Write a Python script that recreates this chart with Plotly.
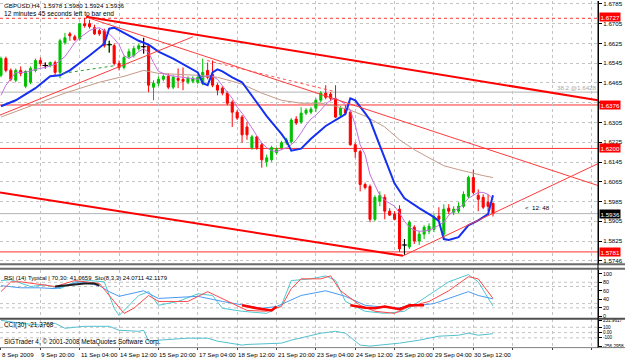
import plotly.graph_objects as go

# ---------------- data ----------------
bar_idx = list(range(101))
date_ticks = [0, 8, 16, 24, 32, 40, 48, 56, 64, 72, 80, 88, 96]
date_labels = ["8 Sep 2009", "9 Sep 20:00", "11 Sep 04:00", "14 Sep 12:00", "15 Sep 20:00",
               "17 Sep 04:00", "18 Sep 12:00", "21 Sep 20:00", "23 Sep 04:00", "24 Sep 12:00",
               "25 Sep 20:00", "29 Sep 04:00", "30 Sep 12:00"]

opens = [1.6496, 1.6564, 1.6516, 1.6476, 1.6516, 1.6452, 1.6468, 1.6516, 1.6556, 1.6536,
         1.6536, 1.6548, 1.6508, 1.6628, 1.6664, 1.6652, 1.6644, 1.6705, 1.6705, 1.6689,
         1.6677, 1.6677, 1.6620, 1.6616, 1.6544, 1.6528, 1.6572, 1.6576, 1.6604, 1.6612,
         1.6616, 1.6448, 1.6464, 1.6480, 1.6492, 1.6448, 1.6484, 1.6480, 1.6468, 1.6472,
         1.6468, 1.6464, 1.6516, 1.6500, 1.6456, 1.6444, 1.6424, 1.6387, 1.6347, 1.6327,
         1.6287, 1.6203, 1.6247, 1.6215, 1.6146, 1.6154, 1.6183, 1.6203, 1.6223, 1.6227,
         1.6319, 1.6307, 1.6343, 1.6347, 1.6363, 1.6395, 1.6424, 1.6420, 1.6403, 1.6335,
         1.6359, 1.6347, 1.6215, 1.6187, 1.6054, 1.6046, 1.5913, 1.5986, 1.6002, 1.5946,
         1.5934, 1.5954, 1.5809, 1.5801, 1.5881, 1.5825, 1.5853, 1.5865, 1.5873, 1.5926,
         1.5853, 1.5958, 1.5942, 1.5946, 1.5966, 1.6006, 1.6082, 1.6010, 1.6002, 1.5982,
         1.5978]
highs = [1.6572, 1.6572, 1.6524, 1.6524, 1.6532, 1.6516, 1.6532, 1.6564, 1.6568, 1.6548,
         1.6552, 1.6556, 1.6644, 1.6668, 1.6672, 1.6660, 1.6709, 1.6729, 1.6721, 1.6701,
         1.6685, 1.6685, 1.6636, 1.6624, 1.6556, 1.6576, 1.6604, 1.6616, 1.6624, 1.6648,
         1.6624, 1.6476, 1.6492, 1.6500, 1.6504, 1.6496, 1.6524, 1.6528, 1.6492, 1.6492,
         1.6496, 1.6564, 1.6548, 1.6556, 1.6464, 1.6452, 1.6432, 1.6395, 1.6355, 1.6335,
         1.6307, 1.6255, 1.6251, 1.6223, 1.6175, 1.6211, 1.6203, 1.6231, 1.6243, 1.6323,
         1.6331, 1.6367, 1.6363, 1.6367, 1.6403, 1.6432, 1.6456, 1.6428, 1.6456, 1.6371,
         1.6375, 1.6355, 1.6223, 1.6195, 1.6062, 1.6054, 1.6010, 1.6026, 1.6014, 1.5958,
         1.5946, 1.5970, 1.5833, 1.5909, 1.5889, 1.5865, 1.5889, 1.5897, 1.5934, 1.5962,
         1.5974, 1.5974, 1.5966, 1.5982, 1.6026, 1.6090, 1.6114, 1.6034, 1.6014, 1.6014,
         1.5980]
lows = [1.6488, 1.6508, 1.6472, 1.6468, 1.6492, 1.6444, 1.6460, 1.6508, 1.6532, 1.6524,
        1.6528, 1.6496, 1.6484, 1.6620, 1.6636, 1.6636, 1.6636, 1.6689, 1.6685, 1.6660,
        1.6656, 1.6608, 1.6588, 1.6536, 1.6516, 1.6520, 1.6564, 1.6568, 1.6596, 1.6584,
        1.6428, 1.6395, 1.6452, 1.6472, 1.6440, 1.6440, 1.6444, 1.6436, 1.6460, 1.6464,
        1.6460, 1.6456, 1.6480, 1.6448, 1.6415, 1.6415, 1.6375, 1.6287, 1.6315, 1.6223,
        1.6235, 1.6195, 1.6195, 1.6122, 1.6126, 1.6146, 1.6175, 1.6195, 1.6215, 1.6219,
        1.6295, 1.6299, 1.6335, 1.6339, 1.6347, 1.6387, 1.6399, 1.6391, 1.6323, 1.6327,
        1.6335, 1.6211, 1.6162, 1.6026, 1.6034, 1.5901, 1.5905, 1.5966, 1.5913, 1.5926,
        1.5909, 1.5781, 1.5769, 1.5793, 1.5813, 1.5809, 1.5833, 1.5853, 1.5861, 1.5905,
        1.5833, 1.5934, 1.5930, 1.5938, 1.5958, 1.5998, 1.6014, 1.5946, 1.5954, 1.5946,
        1.5924]
closes = [1.6564, 1.6516, 1.6480, 1.6516, 1.6504, 1.6512, 1.6524, 1.6556, 1.6544, 1.6536,
          1.6548, 1.6508, 1.6636, 1.6648, 1.6656, 1.6640, 1.6705, 1.6697, 1.6693, 1.6664,
          1.6664, 1.6616, 1.6620, 1.6544, 1.6528, 1.6568, 1.6592, 1.6604, 1.6616, 1.6612,
          1.6456, 1.6464, 1.6480, 1.6492, 1.6448, 1.6488, 1.6476, 1.6472, 1.6484, 1.6484,
          1.6488, 1.6508, 1.6488, 1.6456, 1.6436, 1.6424, 1.6383, 1.6347, 1.6323, 1.6255,
          1.6255, 1.6247, 1.6203, 1.6154, 1.6162, 1.6203, 1.6195, 1.6223, 1.6235, 1.6315,
          1.6303, 1.6343, 1.6355, 1.6359, 1.6395, 1.6424, 1.6407, 1.6403, 1.6327, 1.6363,
          1.6343, 1.6215, 1.6187, 1.6054, 1.6042, 1.5913, 1.6002, 1.6010, 1.5946, 1.5930,
          1.5913, 1.5793, 1.5809, 1.5901, 1.5825, 1.5853, 1.5881, 1.5885, 1.5922, 1.5913,
          1.5954, 1.5946, 1.5954, 1.5966, 1.6014, 1.6082, 1.6022, 1.5994, 1.5962, 1.5966,
          1.5936]

# moving averages (read at selected bars)
blue_k = [0, 3, 7, 10, 12, 14, 18, 20, 21, 22, 23, 25, 28, 30, 32, 35, 38, 40, 41, 42,
          43, 44, 45, 47, 49, 51, 54, 57, 58, 59, 61, 63, 66, 69, 70, 71, 72, 74, 75, 77,
          80, 82, 85, 88, 89, 90, 91, 93, 95, 97, 99, 100]
blue_v = [1.6371, 1.6395, 1.6444, 1.6492, 1.6496, 1.6516, 1.6576, 1.6608, 1.6624, 1.6685,
          1.6689, 1.6668, 1.6636, 1.6620, 1.6592, 1.6564, 1.6532, 1.6508, 1.6464, 1.6456,
          1.6508, 1.6520, 1.6512, 1.6488, 1.6468, 1.6415, 1.6331, 1.6259, 1.6231, 1.6191,
          1.6199, 1.6239, 1.6291, 1.6327, 1.6339, 1.6403, 1.6395, 1.6343, 1.6315, 1.6211,
          1.6058, 1.5998, 1.5958, 1.5922, 1.5905, 1.5833, 1.5829, 1.5841, 1.5889, 1.5909,
          1.5934, 1.6010]
violet_k = [0, 1, 3, 5, 7, 9, 11, 13, 14, 15, 16, 17, 18, 19, 20, 21, 22, 23, 24, 25,
            26, 27, 28, 29, 30, 31, 32, 34, 37, 40, 42, 43, 44, 45, 46, 47, 48, 49, 50, 51,
            52, 53, 54, 55, 56, 57, 58, 59, 60, 61, 62, 63, 64, 65, 66, 67, 68, 69, 70, 71,
            72, 73, 74, 75, 76, 77, 78, 79, 80, 81, 82, 83, 84, 85, 86, 87, 88, 89, 90, 91,
            92, 93, 94, 95, 96, 97, 98, 99, 100]
violet_v = [1.6415, 1.6456, 1.6508, 1.6508, 1.6520, 1.6528, 1.6540, 1.6572, 1.6600, 1.6628,
            1.6648, 1.6664, 1.6677, 1.6685, 1.6689, 1.6677, 1.6664, 1.6644, 1.6620, 1.6576,
            1.6564, 1.6576, 1.6592, 1.6604, 1.6588, 1.6548, 1.6512, 1.6496, 1.6488, 1.6480,
            1.6496, 1.6492, 1.6480, 1.6456, 1.6428, 1.6403, 1.6367, 1.6343, 1.6315, 1.6283,
            1.6251, 1.6223, 1.6203, 1.6191, 1.6187, 1.6195, 1.6203, 1.6215, 1.6235, 1.6263,
            1.6295, 1.6319, 1.6335, 1.6355, 1.6379, 1.6395, 1.6403, 1.6391, 1.6379, 1.6355,
            1.6295, 1.6215, 1.6175, 1.6094, 1.6050, 1.6010, 1.5990, 1.5978, 1.5966, 1.5938,
            1.5905, 1.5881, 1.5869, 1.5865, 1.5865, 1.5869, 1.5877, 1.5889, 1.5901, 1.5930,
            1.5946, 1.5958, 1.5974, 1.5998, 1.6010, 1.6022, 1.6022, 1.6014, 1.5994]
brown_k = [0, 6, 13, 20, 25, 29, 32, 40, 44, 47, 49, 53, 57, 61, 65, 68, 71, 74, 78, 81,
           84, 87, 90, 93, 96, 98, 100]
brown_v = [1.6327, 1.6371, 1.6424, 1.6468, 1.6492, 1.6516, 1.6504, 1.6496, 1.6488, 1.6472,
           1.6460, 1.6424, 1.6395, 1.6383, 1.6383, 1.6371, 1.6355, 1.6331, 1.6287, 1.6235,
           1.6195, 1.6162, 1.6130, 1.6114, 1.6098, 1.6090, 1.6082]

# drawn objects (bar index, price)
thick_top = ([17.3, 121.3], [1.6733, 1.6395])
thin_down = ([17.7, 121.3], [1.6729, 1.6050])
dash_down = ([41.9, 67.5], [1.6556, 1.6432])
thin_up_left = ([-0.2, 39.0], [1.6335, 1.6652])
thick_bottom = ([-0.2, 81.7], [1.6022, 1.5765])
thin_up_right = ([81.7, 121.3], [1.5765, 1.6138])
green_dot = ([12.6, 23.4], [1.6504, 1.6536])
red_levels = [1.6727, 1.6376, 1.6200, 1.5781]
red_level_text = ["1.6727", "1.6376", "1.6200", "1.5781"]
fib_level = 1.6428
bid = 1.5936

price_ticks = [1.6785, 1.6705, 1.6625, 1.6545, 1.6465, 1.6385, 1.6305, 1.6225, 1.6145,
               1.6065, 1.5985, 1.5905, 1.5825, 1.5745]
# the 1.6385 label sits under the red 1.6376 tag in the picture
price_labels = ["1.6785", "1.6705", "1.6625", "1.6545", "1.6465", "", "1.6305",
                "1.6225", "1.6145", "1.6065", "1.5985", "1.5905", "1.5825", "1.5746"]

# RSI / Stochastic panel
rsi_k = [0, 4, 8, 11, 16, 20, 22, 24, 29, 32, 40, 45, 53, 56, 61, 65, 66, 70, 74, 80,
         88, 91, 95, 97, 100]
rsi_v = [72, 67, 67, 65, 81, 72, 58, 47, 60, 42, 47, 35, 19, 23, 49, 58, 60, 47, 26, 19,
         30, 42, 58, 49, 41.0659]
sto_k = [0, 2, 6, 9, 12, 15, 18, 21, 23, 24, 28, 30, 32, 36, 40, 43, 45, 49, 54, 57,
         59, 63, 66, 68, 70, 74, 78, 82, 85, 88, 91, 95, 97, 100]
sto_v = [84, 86, 70, 74, 65, 81, 84, 81, 19, 2, 49, 58, 26, 35, 53, 49, 19, 12, 7, 26,
         84, 88, 95, 84, 35, 12, 7, 12, 35, 58, 81, 98, 81, 24.0711]
sig_k = [0, 2, 4, 11, 15, 20, 22, 25, 27, 30, 32, 38, 42, 45, 50, 54, 57, 59, 61, 65,
         67, 69, 73, 76, 80, 83, 87, 91, 95, 97, 100]
sig_v = [58, 81, 81, 70, 84, 77, 49, 7, 19, 49, 35, 35, 58, 42, 14, 12, 23, 65, 88, 88,
         95, 60, 26, 12, 7, 23, 35, 60, 93, 88, 42.1179]
hi_k = [11, 17, 19, 20]
hi_v = [70, 77, 77, 72]
lo1_k = [49, 52, 55, 56]
lo1_v = [26, 19, 14, 23]
lo2_k = [71, 74, 76, 78, 81, 83, 86]
lo2_v = [26, 20, 19, 23, 17, 26, 26]
osc_ticks = [100, 80, 60, 40, 20, 0]

# CCI panel
cci_k = [0, 4, 8, 11, 13, 17, 22, 24, 28, 29, 30, 32, 38, 42, 44, 49, 50, 54, 57, 59,
         63, 65, 68, 70, 73, 75, 77, 81, 85, 89, 93, 95, 97, 100]
cci_v = [231.9617, 176, 144, 176, 82, 119, 119, 44, 25, 44, -162, -144, -106, -106, -162,
         -237, -225, -215, -200, -144, -50, -12, 25, -12, -237, -256.2958, -237, -200, -144,
         -68, -50, -12, -50, -21.3768]
cci_ticks = [231.9617, 100, 0, -100, -256.2958]
cci_labels = ["231.9617", "100", "0.00", "-100", "-256.2958"]

# ---------------- layout helpers ----------------
W, H = 625, 363
RIGHT = 598.0
FONT = "Liberation Sans, Arial, sans-serif"
GRID = "#c4c4c4"
RED = "#ff0000"
GREEN = "#00c000"
FS = 6.2


def yp(py):
    return 1 - py / H


XD = [0, RIGHT / W]
XR = [-0.2, 121.34]

fig = go.Figure()

# candles
fig.add_trace(go.Candlestick(
    x=bar_idx, open=opens, high=highs, low=lows, close=closes,
    increasing=dict(line=dict(color=GREEN, width=1), fillcolor=GREEN),
    decreasing=dict(line=dict(color=RED, width=1), fillcolor=RED),
    whiskerwidth=0, xaxis="x", yaxis="y", hoverinfo="skip", showlegend=False))

# doji crosses in black
dj = [i for i in bar_idx if opens[i] == closes[i]]
wx, wy = [], []
for i in dj:
    wx += [bar_idx[i], bar_idx[i], None]
    wy += [highs[i], lows[i], None]
fig.add_trace(go.Scatter(x=wx, y=wy, mode="lines", line=dict(color="black", width=1),
                         xaxis="x", yaxis="y", hoverinfo="skip"))
fig.add_trace(go.Scatter(x=[bar_idx[i] for i in dj], y=[opens[i] for i in dj], mode="markers",
                         marker=dict(symbol="line-ew", size=4, line=dict(color="black", width=1)),
                         xaxis="x", yaxis="y", hoverinfo="skip"))


def line(xs, ys, color, width, dash="solid", ax=("x", "y")):
    fig.add_trace(go.Scatter(x=xs, y=ys, mode="lines", line=dict(color=color, width=width, dash=dash),
                             xaxis=ax[0], yaxis=ax[1], hoverinfo="skip", cliponaxis=True))


# moving averages
line(brown_k, brown_v, "#c49a88", 1)
line(violet_k, violet_v, "#c46ee0", 1)
line(blue_k, blue_v, "#1530f0", 2)

# trend lines
line(*thick_top, RED, 2)
line(*thin_down, "#ff3a3a", 1)
line(*dash_down, "#ff5050", 1, "dot")
line(*thin_up_left, "#ff3a3a", 1)
line(*thick_bottom, RED, 2)
line(*thin_up_right, "#ff3a3a", 1)
line(*green_dot, "#30a030", 1, "dot")

# oscillators
line(sto_k, sto_v, "#4ec8d2", 1, ax=("x2", "y2"))
line(rsi_k, rsi_v, "#4a9af0", 1, ax=("x2", "y2"))
line(sig_k, sig_v, "#ff4848", 1, ax=("x2", "y2"))
line(hi_k, hi_v, "#202020", 2, ax=("x2", "y2"))
line(lo1_k, lo1_v, "#ff0000", 2.5, ax=("x2", "y2"))
line(lo2_k, lo2_v, "#ff0000", 2.5, ax=("x2", "y2"))
line(cci_k, cci_v, "#52c0d0", 1, ax=("x3", "y3"))

shapes = []
# horizontal price levels
for i, lv in enumerate(red_levels):
    shapes.append(dict(type="line", xref="x domain", yref="y", x0=0, x1=1, y0=lv, y1=lv,
                       line=dict(color="#ff3030", width=1, dash="dot" if i == 0 else "solid"),
                       layer="below"))
for lv in (fib_level, bid):
    shapes.append(dict(type="line", xref="x domain", yref="y", x0=0, x1=1, y0=lv, y1=lv,
                       line=dict(color="#b4b4b4", width=1), layer="below"))
# oscillator levels
for lv in (20, 30, 70, 80):
    shapes.append(dict(type="line", xref="x2 domain", yref="y2", x0=0, x1=1, y0=lv, y1=lv,
                       line=dict(color=GRID, width=1, dash="dot"), layer="below"))
for lv in (100, 0, -100):
    shapes.append(dict(type="line", xref="x3 domain", yref="y3", x0=0, x1=1, y0=lv, y1=lv,
                       line=dict(color=GRID, width=1, dash="dot"), layer="below"))
# panel separators and frame
for py, w, c in ((265.5, 2, "#6a6a6a"), (270.0, 2, "#6a6a6a"), (320.5, 2, "#505050"),
                 (349.5, 1, "#808080")):
    shapes.append(dict(type="line", xref="paper", yref="paper", x0=0, x1=1, y0=yp(py), y1=yp(py),
                       line=dict(color=c, width=w)))
shapes.append(dict(type="line", xref="paper", yref="paper", x0=RIGHT / W, x1=RIGHT / W,
                   y0=yp(349.5), y1=1, line=dict(color="black", width=1)))

ann = []


def text(x, y, s, xref="paper", yref="paper", xanchor="left", yanchor="middle", color="black",
         bg=None, size=FS, **kw):
    d = dict(x=x, y=y, xref=xref, yref=yref, text=s, showarrow=False, xanchor=xanchor,
             yanchor=yanchor, font=dict(family=FONT, size=size, color=color), borderpad=0)
    if bg:
        d.update(bgcolor=bg, borderpad=0.5)
    d.update(kw)
    ann.append(d)


text(3 / W, yp(5), "GBPUSD,H4  1.5978 1.5980 1.5924 1.5936", size=6.2)
text(3 / W, yp(13), "12 minutes 45 seconds left to bar end", size=6.6)
text(3 / W, yp(279), "RSI (14) Typical | 70,30: 41.0659  Sto(8,3,3) 24.0711 42.1179", size=6.0)
text(3 / W, yp(327), "CCI(30) -21.3768", size=6.4)
text(3 / W, yp(344), "SIGTrader 4, © 2001-2008 MetaQuotes Software Corp.", size=6.4)
for k, lab in zip(date_ticks, date_labels):
    text(k, yp(356), lab, xref="x")
text(RIGHT / W, fib_level, "38.2 @1.6428", yref="y", xanchor="right", yanchor="bottom",
     color="#a8a8a8")
text(bar_idx[-1] + 6.3, closes[-1] + 0.0026, "<  12: 48", xref="x", yref="y")
for lv, s in zip(red_levels, red_level_text):
    text((RIGHT + 1) / W, lv, s, yref="y", color="white", bg=RED,
         yshift=1.5 if lv == red_levels[0] else 0)
text((RIGHT + 1) / W, bid, "1.5936", yref="y", color="white", bg="black")

grid_x = list(range(0, 121, 8))
xcommon = dict(domain=XD, range=XR, tickvals=grid_x, showticklabels=False, showgrid=True,
               gridcolor=GRID, griddash="dot", gridwidth=1, zeroline=False, showline=False)
ycommon = dict(side="right", ticks="outside", ticklen=3, tickcolor="black", showline=True,
               linecolor="black", linewidth=1, zeroline=False)

fig.update_layout(
    width=W, height=H, margin=dict(l=0, r=0, t=0, b=0), autosize=False,
    paper_bgcolor="white", plot_bgcolor="white", showlegend=False, boxgap=0.4,
    font=dict(family=FONT, size=FS, color="black"),
    xaxis=dict(anchor="y", rangeslider=dict(visible=False), **xcommon),
    xaxis2=dict(anchor="y2", **xcommon),
    xaxis3=dict(anchor="y3", ticks="outside", ticklen=2, tickcolor="#404040", **xcommon),
    yaxis=dict(anchor="x", domain=[yp(265), yp(0)], range=[1.57328, 1.6797],
               tickvals=price_ticks, ticktext=price_labels, showgrid=True, gridcolor=GRID,
               griddash="dot", tickfont=dict(family=FONT, size=FS, color="black"), **ycommon),
    yaxis2=dict(anchor="x2", domain=[yp(320), yp(271)], range=[-4.65, 109.3],
                tickvals=osc_ticks, showgrid=False,
                tickfont=dict(family=FONT, size=5.4, color="black"), **ycommon),
    yaxis3=dict(anchor="x3", domain=[yp(349), yp(321)], range=[-275.1, 250.7],
                tickvals=cci_ticks, ticktext=cci_labels, showgrid=False,
                tickfont=dict(family=FONT, size=4.6, color="black"), **ycommon),
    shapes=shapes, annotations=ann,
)

fig.write_html("out.html")
